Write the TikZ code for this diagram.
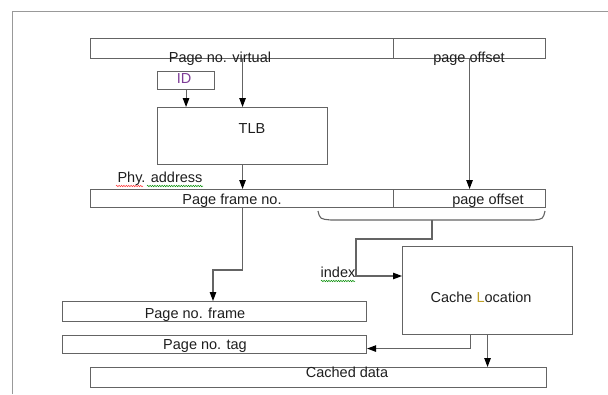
\documentclass[tikz,border=0pt]{standalone}
\usepackage{fontspec}
\setmainfont{Liberation Sans}
\usetikzlibrary{arrows.meta,decorations.pathmorphing}
\definecolor{linegray}{RGB}{100,100,100}
\definecolor{textgray}{RGB}{30,30,30}
\definecolor{idpurple}{RGB}{125,60,150}
\definecolor{cursoryellow}{RGB}{190,160,40}
\tikzset{
    field/.style={draw=linegray, line width=1.1pt, inner sep=0pt, anchor=north west},
    lbl/.style={anchor=base, inner sep=0pt, text=textgray, font=\fontsize{14.5}{16}\selectfont},
    wire/.style={draw=linegray, line width=1.1pt},
    arr/.style={wire, -{Triangle[length=9pt,width=6.5pt,color=black]}},
    squiggle/.style={decorate, decoration={snake, amplitude=0.7pt, segment length=2.4pt}, line width=0.5pt}
}
\begin{document}
\begin{tikzpicture}[x=1pt,y=-1pt]
    \useasboundingbox (0,0) rectangle (608,394);
    % page frame
    \draw[draw=gray!80, line width=1pt] (12,394) -- (12,11) -- (608,11);
    % address fields
    \node[field, minimum width=303, minimum height=20] (vpn) at (90,38) {};
    \node[field, minimum width=152, minimum height=20] (voff) at (393,38) {};
    \node[field, minimum width=57, minimum height=18] (idbox) at (157,71) {};
    \node[field, minimum width=170, minimum height=57] (tlb) at (157,107) {};
    \node[field, minimum width=303, minimum height=18] (pfn) at (90,189) {};
    \node[field, minimum width=152, minimum height=18] (poff) at (393,189) {};
    \node[field, minimum width=170, minimum height=88] (cache) at (402,246) {};
    \node[field, minimum width=304, minimum height=20] (pframe) at (62,301) {};
    \node[field, minimum width=304, minimum height=18] (ptag) at (62,335) {};
    \node[field, minimum width=456, minimum height=20] (cdata) at (90,367) {};
    % labels
    \node[lbl] (vpnt) at (220,62) {Page no. virtual};
    \node[lbl] (vofft) at (469,62) {page offset};
    \node[lbl, text=idpurple] (idt) at (184,83) {ID};
    \node[lbl] (tlbt) at (252,133) {TLB};
    \node[lbl] (phyt) at (160,182) {Phy. address};
    \node[lbl] (pfnt) at (232,204) {Page frame no.};
    \node[lbl] (pofft) at (488,204) {page offset};
    \node[lbl] (indext) at (338,277) {index};
    \node[lbl] (cachet) at (481,302) {Cache {\color{cursoryellow}L}ocation};
    \node[lbl] (pframet) at (195,318) {Page no. frame};
    \node[lbl] (ptagt) at (205,349) {Page no. tag};
    \node[lbl] (cdatat) at (347,377) {Cached data};
    % spelling marks
    \draw[squiggle, red!80] (116,186) -- (143,186);
    \draw[squiggle, green!55!black] (147,186) -- (203,186);
    \draw[squiggle, green!55!black] (321,281) -- (355,281);
    % translation
    \draw[arr] (idbox.south) -- (idbox.south |- tlb.north);
    \draw[arr] (vpn.south -| tlb.north) -- (tlb.north);
    \draw[arr] (voff.south) -- (poff.north);
    \draw[arr] (tlb.south) -- (tlb.south |- pfn.north);
    % brace under the physical address
    \coordinate (brL) at (318,211);
    \coordinate (brR) at (545,211);
    \coordinate (brtip) at (432,220);
    \draw[wire] (brL) .. controls (320,219) .. (331,220) -- (534,220) .. controls (543,219) .. (brR);
    % index into the cache
    \coordinate (ixcorner) at (356,239);
    \coordinate (ixin) at ([yshift=-30pt]cache.north west);
    \draw[arr] (brtip) |- (ixcorner) |- (ixin);
    % frame number down to the tag compare
    \coordinate (fcorner) at (213,270);
    \draw[arr] (pfn.south) |- (fcorner) -- (fcorner |- pframe.north);
    \draw[arr] ([xshift=-17pt]cache.south) |- ([yshift=-4pt]ptag.east);
    \draw[arr] (cache.south) -- (cache.south |- cdata.north);
\end{tikzpicture}
\end{document}
